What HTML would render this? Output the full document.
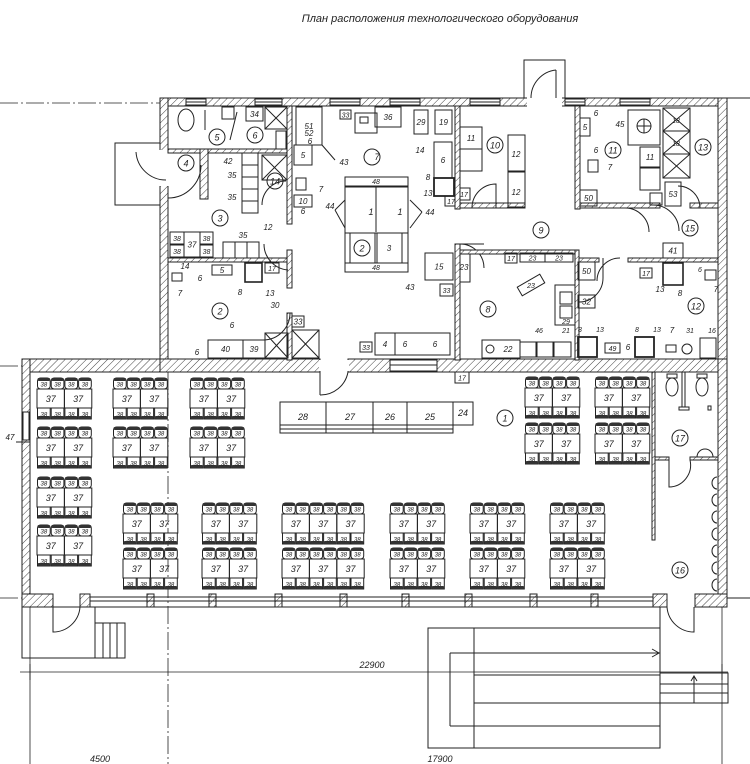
<!DOCTYPE html>
<html><head><meta charset="utf-8"><style>
html,body{margin:0;padding:0;background:#fff;overflow:hidden;width:750px;height:764px;}
svg{display:block;}
text{font-family:"Liberation Sans",sans-serif;font-style:italic;fill:#222;}
</style></head><body>
<svg id="s" width="750" height="764" viewBox="0 0 750 764" xmlns="http://www.w3.org/2000/svg">
<defs>
<pattern id="h" width="5" height="5" patternUnits="userSpaceOnUse" patternTransform="rotate(45)">
<rect width="5" height="5" fill="#fff"/><line x1="0" y1="0" x2="0" y2="5" stroke="#444" stroke-width="1"/>
</pattern>
</defs>
<text x="440" y="22" font-size="11" text-anchor="middle">План расположения технологического оборудования</text>
<g id="g" fill="none" stroke="#222" stroke-width="1"></g>
</svg>
<script>
const g=document.getElementById('g');const NS='http://www.w3.org/2000/svg';
function el(t,a,txt){const e=document.createElementNS(NS,t);for(const k in a)e.setAttribute(k,a[k]);if(txt!==undefined)e.textContent=txt;g.appendChild(e);return e;}
function R(x,y,w,h,sw){return el('rect',{x,y,width:w,height:h,'stroke-width':sw||1});}
function W(x,y,w,h){return el('rect',{x,y,width:w,height:h,fill:'url(#h)','stroke-width':1});}
function L(x1,y1,x2,y2,extra){const a={x1,y1,x2,y2};if(extra)Object.assign(a,extra);return el('line',a);}
function T(x,y,s,fs){return el('text',{x,y,'font-size':fs||9,'text-anchor':'middle',stroke:'none',fill:'#222'},s);}
function C(x,y,s){el('circle',{cx:x,cy:y,r:8});T(x,y+3.5,s,9);}
function X(x,y,w,h){R(x,y,w,h);L(x,y,x+w,y+h);L(x+w,y,x,y+h);}
function B(x,y,w,h,s,fs){R(x,y,w,h);if(s)T(x+w/2,y+h/2+3,s,fs||8);}
function arc(x1,y1,x2,y2,r,sw){el('path',{d:`M${x1} ${y1} A${r} ${r} 0 0 ${sw} ${x2} ${y2}`});}
const dash={'stroke-dasharray':'18 3 2 3','stroke-width':0.8};
// axis lines
L(0,103,160,103,dash);L(727,98,750,98);L(0,366,22,366,dash);L(727,598,750,598);L(0,598,22,598,dash);
L(168,372,168,764,dash);L(30,607,30,764,{'stroke-width':0.8});L(722,607,722,764,{'stroke-width':0.8});
// outer walls upper block
W(160,98,567,8);W(160,98,8,268);W(718,98,9,268);
[[186,206],[255,282],[330,360],[390,420],[470,500],[565,585],[620,650]].forEach(([a,b])=>{el('rect',{x:a,y:99,width:b-a,height:6,fill:'#fff',stroke:'#222'});L(a,102,b,102);});
// vestibule
R(524,60,41,38);el('rect',{x:527,y:97,width:35,height:10,fill:'#fff',stroke:'none'});L(556,70,556,98);arc(531,98,556,70,28,1);
// left porch
R(115,143,45,62);el('rect',{x:158,y:150,width:11,height:36,fill:'#fff',stroke:'none'});arc(136,152,166,180,30,0);
// hall walls
W(22,359,138,13);W(160,359,160,13);W(348,359,370,13);W(22,359,8,248);W(718,359,9,248);
el('rect',{x:390,y:360,width:47,height:11,fill:'#fff',stroke:'#222'});L(390,365,437,365);
el('rect',{x:319,y:360,width:30,height:11,fill:'#fff',stroke:'none'});L(320,372,320,395);arc(320,395,348,372,28,0);
// bottom wall with windows
W(22,594,31,13);W(80,594,10,13);
const piers=[150,212,278,343,405,468,533,594];piers.forEach(p=>W(p-3,594,7,13));W(653,594,14,13);W(695,594,32,13);
L(90,597,653,597);L(90,601,653,601);L(90,607,653,607);
el('rect',{x:23,y:412,width:6,height:28,fill:'#fff',stroke:'#222'});
// bottom left porch
R(22,607,73,51);R(95,623,30,35);L(103,623,103,658);L(110,623,110,658);L(117,623,117,658);
el('path',{d:'M53 607 L53 632 A27 27 0 0 0 80 607'});L(95,607,95,623);
// bottom right door
el('path',{d:'M667 607 A27 27 0 0 0 694 632 L694 607'});L(660,607,660,710);
// ramp
R(428,628,232,120);L(474,628,474,748);L(450,653,660,653);L(450,653,450,726);L(450,726,660,726);L(474,675,660,675);L(474,703,660,703);
el('path',{d:'M652 649 L659 653 L652 657'});
R(660,673,68,30);L(660,684,728,684);L(660,693,728,693);L(694,703,694,676);el('path',{d:'M691 681 L694 676 L697 681'});
// dimension
L(20,672,728,672,{'stroke-width':0.8});const dt=T(372,668,'22900',9);dt.setAttribute('font-style','normal');
L(30,664,30,680);L(722,664,722,680);
T(100,762,'4500',9);T(440,762,'17900',9);
T(10,440,'47',8);L(16,442,30,442);
// ---------- upper interior ----------
W(168,149,122,4);W(168,258,122,4);W(287,106,5,118);W(287,250,5,38);W(287,313,5,47);
W(200,149,8,50);el('path',{d:'M168 198 A33 33 0 0 0 201 165'});
C(186,163,'4');C(217,137,'5');C(255,135,'6');C(220,218,'3');C(220,311,'2');
el('ellipse',{cx:186,cy:120,rx:8,ry:11});R(222,107,12,12);B(246,107,17,14,'34');X(265,107,22,22);R(276,131,10,18);
L(237,112,230,140);L(205,110,205,130);
B(242,153,16,12);B(242,165,16,12);B(242,177,16,12);B(242,189,16,12);B(242,201,16,12);
T(232,178,'35',8);T(232,200,'35',8);T(228,164,'42',8);
X(262,155,25,25);C(275,181,'14');el('path',{d:'M262 205 A24 24 0 0 1 286 181'});
B(170,232,14,12,'38',7);B(170,245,14,12,'38',7);B(184,232,16,25,'37',8);B(200,232,13,12,'38',7);B(200,245,13,12,'38',7);
B(223,242,12,16);B(235,242,12,16);B(247,242,12,16);T(243,238,'35',8);T(268,230,'12',8);
el('path',{d:'M264 244 A26 26 0 0 0 288 270'});
B(212,265,20,10,'5',8);T(200,281,'6',8);T(185,269,'14',8);R(172,273,10,8);T(180,296,'7',8);
R(245,263,17,19,1.6);T(240,295,'8',8);T(270,296,'13',8);B(265,263,14,10,'17',7);T(275,308,'30',8);
el('path',{d:'M290 313 A27 27 0 0 1 263 340'});
T(232,328,'6',8);B(208,340,35,18,'40',8);B(243,340,22,18,'39',8);X(265,333,23,25);X(292,330,27,28);B(292,316,12,11,'33',8);T(197,355,'6',8);
// kitchen 7
B(296,107,26,38,'51',8);T(309,136,'52',8);T(344,165,'43',8);L(322,145,335,160);
B(340,110,11,9,'33',7);R(355,113,22,20);R(360,117,8,6);T(377,160,'7',9);el('circle',{cx:372,cy:157,r:8});
B(375,107,26,20,'36',8);B(414,110,14,24,'29',8);B(435,110,17,24,'19',8);
B(294,145,18,20,'5',8);T(310,144,'6',8);R(296,178,10,12);T(321,192,'7',8);B(294,195,18,12,'10',8);T(303,214,'6',8);
R(345,177,63,95);R(345,177,63,9);T(376,184,'48',7);R(345,263,63,9);T(376,270,'48',7);
L(376,186,376,232);R(345,187,63,46);T(371,215,'1',9);T(400,215,'1',9);
R(350,233,25,30);R(377,233,25,30);C(362,248,'2');T(389,251,'3',8);
T(330,209,'44',8);L(335,210,345,200);L(335,210,345,228);T(430,215,'44',8);L(422,212,410,200);L(422,212,410,228);
B(434,142,18,36,'6',8);T(420,153,'14',8);R(434,178,20,18,1.8);T(428,180,'8',8);T(428,196,'13',8);B(458,188,12,12,'17',7);B(445,196,12,10,'17',7);
B(425,253,28,27,'15',8);T(410,290,'43',8);B(440,284,13,12,'33',7);B(458,252,12,30,'23',8);
W(455,106,5,103);W(455,244,5,116);
B(375,333,20,22,'4',8);T(405,347,'6',8);B(375,333,75,22);T(435,347,'6',8);B(360,342,12,10,'33',7);
B(455,372,14,11,'17',7);
// room 10 / corridor 9
W(460,203,65,5);W(575,106,5,103);W(580,203,80,5);W(690,203,28,5);
B(460,127,22,22,'11',8);R(460,149,22,22);C(495,145,'10');R(508,135,17,36);T(516,157,'12',8);R(508,172,17,35);T(516,195,'12',8);
el('path',{d:'M472 208 A24 24 0 0 1 496 184 L496 208'});
C(541,230,'9');
el('path',{d:'M460 244 A24 24 0 0 1 484 268'});L(460,244,484,244);
el('path',{d:'M625 208 A24 24 0 0 1 649 232'});el('path',{d:'M700 208 A22 22 0 0 0 678 186'});
el('path',{d:'M653 205 A26 26 0 0 1 679 231'});
B(580,118,10,18,'5',8);T(596,116,'6',8);T(596,153,'6',8);R(588,160,10,12);T(610,170,'7',8);B(580,190,17,16,'50',8);
C(613,150,'11');R(628,110,32,35);el('circle',{cx:644,cy:126,r:7});L(637,126,651,126);L(644,119,644,133);T(620,127,'45',8);
B(640,147,20,20,'11',8);R(640,168,20,22);X(663,108,27,23);X(663,131,27,23);X(663,154,27,24);T(676,123,'18',7);T(676,146,'18',7);
B(650,193,12,12);B(665,182,16,24,'53',8);C(703,147,'13');
// room 8 / 12
W(460,250,115,4);W(575,250,4,110);W(628,258,90,4);W(579,258,20,4);
el('path',{d:'M579 302 A24 24 0 0 0 603 278'});L(603,278,603,258);
el('path',{d:'M620 258 A23 23 0 0 0 597 281'});
C(488,309,'8');B(505,253,12,10,'17',7);B(520,253,25,9,'23',7);B(545,253,28,9,'23',7);
el('rect',{x:518,y:280,width:26,height:10,transform:'rotate(-30 531 285)'});T(531,288,'23',7);
R(555,285,20,40);B(560,292,12,12);B(560,306,12,12);T(566,324,'29',7);B(578,295,17,13,'32',8);B(578,262,17,18,'50',8);
B(663,243,20,15,'41',8);R(663,263,20,22,1.6);T(660,292,'13',8);T(680,296,'8',8);R(705,270,11,10);T(700,272,'6',7);T(716,292,'7',8);
C(690,228,'15');C(696,306,'12');B(640,268,12,10,'17',7);
R(482,340,38,18);el('circle',{cx:490,cy:349,r:4});T(508,352,'22',8);
B(520,342,16,15);B(537,342,16,15);B(554,342,17,15);T(539,333,'46',7);T(566,333,'21',7);
R(578,337,19,20,1.8);T(580,332,'8',7);T(600,332,'13',7);B(605,343,15,10,'49',7);T(628,350,'6',8);R(635,337,19,20,1.8);T(637,332,'8',7);T(657,332,'13',7);
R(666,345,10,7);T(672,333,'7',8);el('circle',{cx:687,cy:349,r:5});T(690,333,'31',7);B(700,338,16,20);T(712,333,'16',7);
// ---------- hall ----------
C(505,418,'1');C(680,438,'17');C(680,570,'16');
R(280,402,46,31);T(303,420,'28',9);R(326,402,47,31);T(350,420,'27',9);R(373,402,34,31);T(390,420,'26',9);R(407,402,46,31);T(430,420,'25',9);R(453,402,20,23);T(463,416,'24',9);
L(280,425,453,425);L(280,429,453,429);
W(652,372,3,168);W(655,457,14,3);W(690,457,28,3);
el('path',{d:'M669 459 L669 487 A22 22 0 0 0 690 460'});
el('ellipse',{cx:672,cy:387,rx:6,ry:9});R(667,374,10,4);el('ellipse',{cx:702,cy:387,rx:6,ry:9});R(697,374,10,4);
R(682,372,3,35);R(679,407,10,3);R(708,406,3,4);
el('path',{d:'M697 457 A8 8 0 0 1 713 457'});
for(let i=0;i<7;i++){el('path',{d:`M717 ${477+i*17} a5 6 0 1 0 0 12`});}
function group(x,y,n){const cw=13.7;
 for(let r=0;r<2;r++){const yy=r?y+30:y;for(let i=0;i<n;i++){el('rect',{x:x+i*cw+0.5,y:yy,width:cw-1,height:11,rx:r?0:3,fill:'#fff',stroke:'#222'});el('rect',{x:x+i*cw+0.5,y:r?yy+8:yy,width:cw-1,height:3,rx:1.5,fill:'#333',stroke:'none'});T(x+i*cw+cw/2,yy+8.5,'38',6);}}
 for(let k=0;k<n/2;k++){R(x+k*2*cw,y+11,2*cw,19);T(x+k*2*cw+cw,y+24,'37',9);}}
[[37,378],[37,427],[37,477],[37,525],[113,378],[113,427],[190,378],[190,427],[525,377],[595,377],[525,423],[595,423]].forEach(([x,y])=>group(x,y,4));
[[123,503],[123,548],[202,503],[202,548],[390,503],[390,548],[470,503],[470,548],[550,503],[550,548]].forEach(([x,y])=>group(x,y,4));
group(282,503,6);group(282,548,6);
</script>
</body></html>
